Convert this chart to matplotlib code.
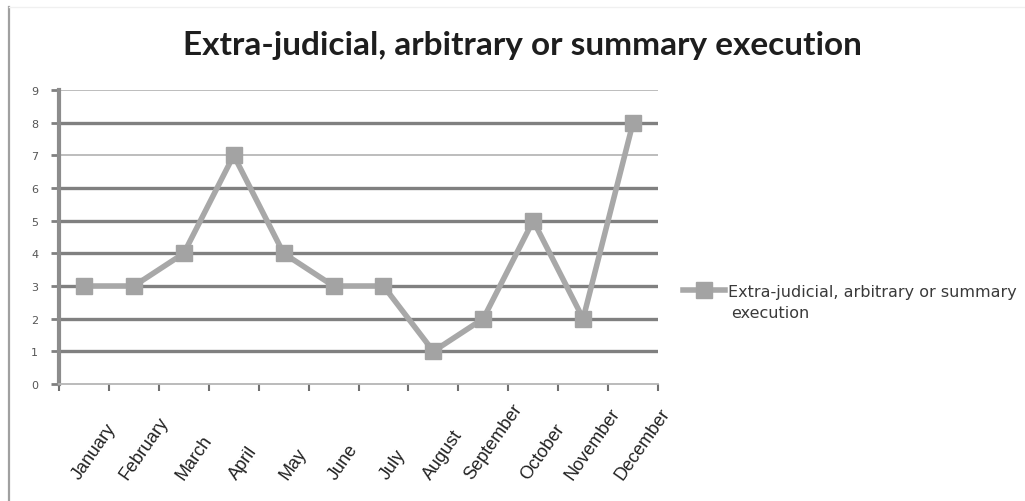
import numpy as np
import matplotlib
matplotlib.use('Agg')
import matplotlib.pyplot as plt
from matplotlib.lines import Line2D
from matplotlib.transforms import blended_transform_factory, offset_copy

months = ['January', 'February', 'March', 'April', 'May', 'June',
          'July', 'August', 'September', 'October', 'November', 'December']
values = [3, 3, 4, 7, 4, 3, 3, 1, 2, 5, 2, 8]
series_name = 'Extra-judicial, arbitrary or summary execution'
yticks = list(range(0, 10))

fig = plt.figure(figsize=(10.25, 5.02), dpi=100)
ax = fig.add_axes([59/1025, 1-385/502, (658-59)/1025, (385-91)/502])

x = np.arange(len(months)) + 0.5
line, = ax.plot(x, values, '-s', color='#a8a8a8', lw=4, ms=12,
                mfc='#a3a3a3', mec='#a3a3a3', label=series_name, zorder=3)

ax.set_xlim(0, len(months))
ax.set_ylim(0, 9)

# gridlines, the 7 and 9 ones render lighter in the reference
for v in yticks[1:]:
    if v in (7, 9):
        ax.axhline(v, color='#b8b8b8', lw=1.3, zorder=1)
    else:
        ax.axhline(v, color='#808080', lw=2.4, zorder=1)

for s in ['top', 'right']:
    ax.spines[s].set_visible(False)
ax.spines['left'].set_color('#8c8c8c')
ax.spines['left'].set_linewidth(3)
ax.spines['bottom'].set_color('#b5b5b5')
ax.spines['bottom'].set_linewidth(1.3)

ax.set_yticks(yticks)
ax.set_yticklabels([str(v) for v in yticks], fontsize=8, color='#555555')
ax.tick_params(axis='y', length=6, width=2, color='#808080', pad=9)

ax.set_xticks(np.arange(len(months) + 1))
ax.set_xticklabels([])
ax.tick_params(axis='x', length=5, width=1.5, color='#707070')

# rotated month labels, bottoms aligned like the original
trans = offset_copy(blended_transform_factory(ax.transData, fig.transFigure),
                    fig=fig, x=10, y=0, units='dots')
for xi, m in zip(x, months):
    ax.text(xi, 1-483/502, m, rotation=55, ha='center', va='bottom',
            fontsize=13, family='Liberation Sans', color='#222222',
            transform=trans)

fig.text(522/1025, 1-46/502, series_name, ha='center', va='center',
         fontsize=24, fontweight='bold', family='Lato', color='#1e1e1e')

leg = fig.legend(handles=[line], labels=['Extra-judicial, arbitrary or summary'],
                 loc='center left', bbox_to_anchor=(683/1025, 1-292/502),
                 frameon=False, fontsize=11.5, handlelength=2.6, handletextpad=0.2,
                 borderaxespad=0, borderpad=0)
for t in leg.get_texts():
    t.set_color('#3a3a3a')
fig.text(731/1025, 1-313/502, 'execution', ha='left', va='center',
         fontsize=11.5, color='#3a3a3a')

# outer frame edge on the left
fig.add_artist(Line2D([9/1025, 9/1025], [0, 1-8/502], color='#a0a0a0', lw=1.6))
fig.add_artist(Line2D([9/1025, 1], [1-8/502, 1-8/502], color='#f0f0f0', lw=1))

fig.savefig('out.png', dpi=100)
